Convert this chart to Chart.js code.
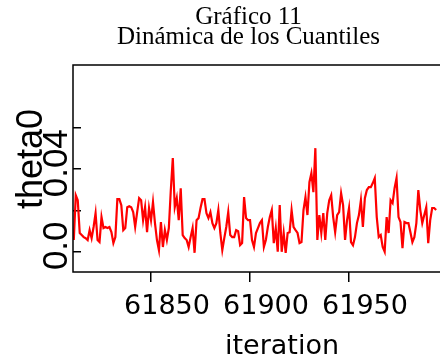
<!DOCTYPE html>
<html>
<head>
<meta charset="utf-8">
<script src="https://cdn.jsdelivr.net/npm/chart.js@4.4.1/dist/chart.umd.min.js"></script>
<style>
  html, body { margin: 0; padding: 0; background: #fff; overflow: hidden; }
  #wrap { width: 491px; height: 360px; }
</style>
</head>
<body>
<div id="wrap"><canvas id="trace" width="491" height="360"></canvas></div>
<script>
const titleLines = ["Gráfico 11", "Dinámica de los Cuantiles"];
const firstIteration = 61811;

// theta0 draws, one per iteration
const theta0 = [
  0.0057, 0.0274, 0.0250, 0.0091, 0.0081, 0.0071, 0.0066, 0.0057, 0.0105, 0.0066,
  0.0120, 0.0187, 0.0057, 0.0047, 0.0168, 0.0115, 0.0120, 0.0115, 0.0120, 0.0095,
  0.0042, 0.0071, 0.0255, 0.0255, 0.0226, 0.0105, 0.0115, 0.0216, 0.0221,
  0.0216, 0.0192, 0.0120, 0.0192, 0.0260, 0.0250, 0.0153, 0.0216, 0.0095, 0.0212,
  0.0153, 0.0241, 0.0139, 0.0057, 0.0008, 0.0144, 0.0023, 0.0105, 0.0057, 0.0115,
  0.0299, 0.0454, 0.0216, 0.0260, 0.0153, 0.0308, 0.0081, 0.0066, 0.0057, 0.0023, 0.0071,
  0.0115, -0.0005, 0.0153, 0.0163, 0.0212, 0.0255, 0.0255, 0.0187, 0.0163, 0.0192,
  0.0139, 0.0115, 0.0139, 0.0202, 0.0091, 0.0008, 0.0066, 0.0120, 0.0192, 0.0081,
  0.0071, 0.0071, 0.0105, 0.0100, 0.0032, 0.0042, 0.0265, 0.0163, 0.0153, 0.0153, 0.0057,
  0.0023, 0.0091, 0.0115, 0.0139, 0.0153, 0.0023, 0.0057, 0.0120, 0.0168, 0.0202,
  0.0042, 0.0115, 0.0000, 0.0226, 0.0000, 0.0091, -0.0005, 0.0091, 0.0095, 0.0202,
  0.0120, 0.0105, 0.0091, 0.0042, 0.0047, 0.0202,
  0.0265, 0.0178, 0.0337, 0.0381, 0.0289, 0.0502, 0.0057, 0.0178, 0.0091, 0.0187,
  0.0057, 0.0187, 0.0250, 0.0274, 0.0168, 0.0095, 0.0178, 0.0192, 0.0284, 0.0226,
  0.0057, 0.0153, 0.0212, 0.0047, 0.0032, 0.0071, 0.0139, 0.0178, 0.0250, 0.0120,
  0.0260, 0.0299, 0.0313, 0.0313, 0.0333, 0.0357, 0.0168, 0.0071, 0.0081, 0.0023,
  0.0000, 0.0168, 0.0091, 0.0250, 0.0236, 0.0308, 0.0357, 0.0168, 0.0144, 0.0018,
  0.0144, 0.0139, 0.0139, 0.0095, 0.0047, 0.0071, 0.0139, 0.0299, 0.0202, 0.0139,
  0.0178, 0.0216, 0.0042, 0.0153, 0.0212, 0.0212, 0.0202
];

const xTicks = [61850, 61900, 61950];
const yTicks = [0, 0.02, 0.04, 0.06];
const yTickLabels = ["0.0", "", "0.04", ""];
const xRange = [61810.6, 62021.7];
const yRange = [-0.0098, 0.0905];

const iterations = theta0.map((_, i) => firstIteration + i);

// frame around the plot plus the rotated y-axis text
const framePlugin = {
  id: "frame",
  afterDraw(chart) {
    const { ctx, chartArea: a, scales } = chart;
    ctx.save();
    ctx.strokeStyle = "#000";
    ctx.lineWidth = 1.5;
    ctx.strokeRect(a.left, a.top, a.right - a.left, a.bottom - a.top);

    ctx.fillStyle = "#000";
    ctx.textAlign = "center";
    ctx.textBaseline = "alphabetic";
    ctx.font = '35px "Liberation Sans"';
    yTicks.forEach((v, i) => {
      if (!yTickLabels[i]) return;
      ctx.save();
      ctx.translate(67, scales.y.getPixelForValue(v) - 6);
      ctx.rotate(-Math.PI / 2);
      ctx.fillText(yTickLabels[i], 0, 0);
      ctx.restore();
    });

    ctx.font = '36px "Liberation Sans"';
    ctx.translate(42, 159);
    ctx.rotate(-Math.PI / 2);
    ctx.fillText("theta0", 0, 0);
    ctx.restore();
  },
};

new Chart(document.getElementById("trace"), {
  type: "line",
  data: {
    datasets: [
      {
        data: iterations.map((x, i) => ({ x, y: theta0[i] })),
        borderColor: "#ff0000",
        borderWidth: 2.2,
        pointRadius: 0,
        tension: 0,
        fill: false,
      },
    ],
  },
  options: {
    responsive: false,
    animation: false,
    devicePixelRatio: 1,
    layout: { padding: { left: 6, right: 0, top: 7, bottom: 0 } },
    plugins: {
      legend: { display: false },
      tooltip: { enabled: false },
      title: {
        display: true,
        text: titleLines,
        color: "#000",
        font: { family: "Liberation Serif", size: 25, weight: "normal", lineHeight: 0.8 },
        padding: { top: 0, bottom: 18 },
      },
    },
    scales: {
      x: {
        type: "linear",
        min: xRange[0],
        max: xRange[1],
        afterBuildTicks: (s) => { s.ticks = xTicks.map((v) => ({ value: v })); },
        afterFit: (s) => { s.height = 88; },
        border: { display: false },
        grid: { drawOnChartArea: false, drawTicks: true, tickLength: 10, color: "#000", lineWidth: 1.5 },
        ticks: {
          color: "#000",
          font: { family: "DejaVu Sans", size: 27 },
          padding: 9,
          labelOffset: 16,
          maxRotation: 0,
          autoSkip: false,
          callback: (v) => String(v),
        },
        title: {
          display: true,
          text: "iteration",
          color: "#000",
          font: { family: "DejaVu Sans", size: 27, lineHeight: 1 },
          padding: 0,
        },
      },
      y: {
        type: "linear",
        min: yRange[0],
        max: yRange[1],
        afterBuildTicks: (s) => { s.ticks = yTicks.map((v) => ({ value: v })); },
        afterFit: (s) => { s.width = 67; },
        border: { display: false },
        grid: { drawOnChartArea: false, drawTicks: true, tickLength: -8, color: "#000", lineWidth: 1.5 },
        ticks: { display: false },
      },
    },
  },
  plugins: [framePlugin],
});
</script>
</body>
</html>
